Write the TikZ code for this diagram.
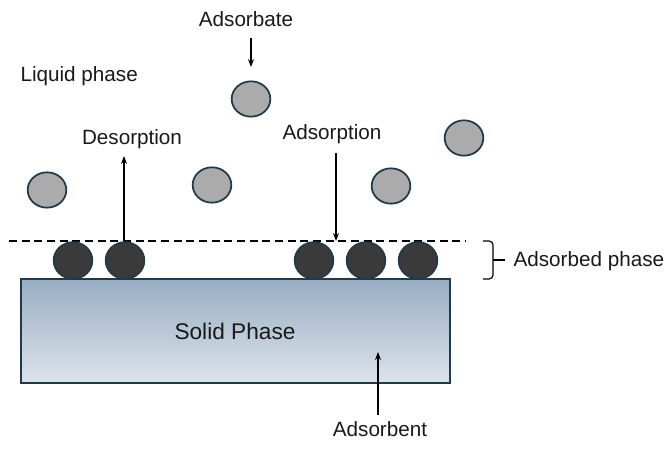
\documentclass[tikz,border=0pt]{standalone}
\usepackage{fontspec}
\setmainfont{Liberation Sans}
\usetikzlibrary{arrows.meta,shapes.geometric}
\definecolor{edgeblue}{HTML}{1F3A4A}
\definecolor{darkmol}{HTML}{3A3A3A}
\definecolor{lightmol}{HTML}{ABABAB}
\definecolor{solidtop}{HTML}{98AEC3}
\definecolor{solidbot}{HTML}{DDE3EA}
\begin{document}
\begin{tikzpicture}[x=0.75pt,y=-0.75pt,
  txt/.style={font=\fontsize{15.5}{18}\selectfont, text=black!90, inner sep=1pt},
  freemol/.style={ellipse, draw=edgeblue, line width=1.3pt, fill=lightmol,
                  minimum width=29pt, minimum height=26.5pt, inner sep=0pt},
  boundmol/.style={ellipse, draw=edgeblue, line width=1.3pt, fill=darkmol,
                   minimum width=29pt, minimum height=27.5pt, inner sep=0pt},
  flow/.style={-{Stealth[length=6pt,width=4.5pt]}, line width=0.9pt}]
\useasboundingbox (0,0) rectangle (669,463);

% solid adsorbent block
\node[draw=edgeblue, line width=1.1pt, top color=solidtop, bottom color=solidbot,
      minimum width=321.75pt, minimum height=78pt, inner sep=0pt] (solid) at (235.5,331) {};
\node[txt, font=\fontsize{17}{20}\selectfont] (solidtxt) at (235,331) {Solid Phase};

% adsorbed layer boundary
\coordinate (dashL) at (9,241);
\coordinate (dashR) at (466,241);
\draw[line width=0.9pt, dash pattern=on 6pt off 3.5pt] (dashL) -- (dashR);

% adsorbed molecules
\node[boundmol] (b1) at (73,260.5) {};
\node[boundmol] (b2) at (125,260.5) {};
\node[boundmol] (b3) at (314,260.5) {};
\node[boundmol] (b4) at (366,260.5) {};
\node[boundmol] (b5) at (418,260.5) {};

% molecules in the liquid
\node[freemol] (f1) at (251,99) {};
\node[freemol] (f2) at (47,190) {};
\node[freemol] (f3) at (212,185) {};
\node[freemol] (f4) at (391,186) {};
\node[freemol] (f5) at (464,138) {};

% text labels
\node[txt] (adsorbate) at (246,19) {Adsorbate};
\node[txt, anchor=west] (liquid) at (19,76) {Liquid phase};
\node[txt] (desorp) at (132,139) {Desorption};
\node[txt] (adsorp) at (332,134) {Adsorption};
\node[txt, anchor=west] (adsphase) at (512,261) {Adsorbed phase};
\node[txt] (adsorbent) at (380,429) {Adsorbent};

% arrows
\coordinate (adsTop) at (251,38);
\coordinate (adsTip) at (251,67);
\draw[flow] (adsTop) -- (adsTip);
\coordinate (desBase) at (124,241);
\coordinate (desTip) at (124,156);
\draw[flow] (desBase) -- (desTip);
\coordinate (adsStart) at (336,153);
\coordinate (adsEnd) at (336,241);
\draw[flow] (adsStart) -- (adsEnd);
\coordinate (sorbBase) at (378,415);
\coordinate (sorbTip) at (378,352);
\draw[flow] (sorbBase) -- (sorbTip);

% square-cornered brace for the adsorbed layer
\coordinate (braceTop) at (483,241);
\coordinate (braceMid) at (493,260);
\coordinate (braceTip) at (505,260);
\coordinate (braceBot) at (483,279);
\draw[line width=0.9pt, rounded corners=3pt]
  (braceTop) -- (braceTop -| braceMid) -- (braceMid) -- (braceBot -| braceMid) -- (braceBot);
\draw[line width=0.9pt] (braceMid) -- (braceTip);
\end{tikzpicture}
\end{document}
